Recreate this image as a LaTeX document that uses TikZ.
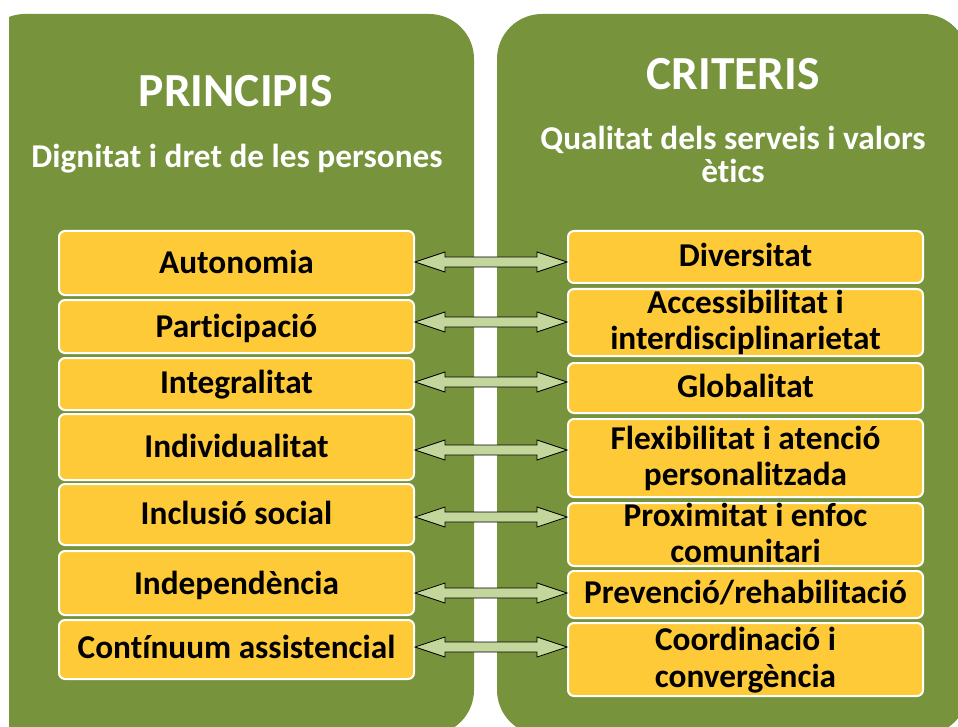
\documentclass[tikz,border=0pt]{standalone}
\usepackage{fontspec}
\setmainfont{Carlito}[RawFeature={-liga}]
\usetikzlibrary{calc}
\definecolor{panelgreen}{RGB}{119,147,60}
\definecolor{boxyellow}{RGB}{255,202,56}
\definecolor{arrowfill}{RGB}{195,214,155}
\tikzset{
  panel/.style={fill=panelgreen, draw=none, rounded corners=45pt},
  box/.style={rectangle, fill=boxyellow, draw=white, line width=2pt, rounded corners=6pt,
    inner sep=0pt, minimum width=355pt},
  lbl/.style={anchor=base, inner sep=0pt, text=black, font=\fontsize{33.3}{36}\selectfont\bfseries},
  ttl/.style={anchor=base, inner sep=0pt, text=white, font=\fontsize{47.5}{50}\selectfont\bfseries},
  sub/.style={anchor=base, inner sep=0pt, text=white, font=\fontsize{33.3}{33}\selectfont\bfseries},
  arrowshape/.style={fill=arrowfill, draw=black, line width=0.8pt, line join=miter}
}
\newcommand\dblarr[2]{%
  \draw[arrowshape] let \p1=(#1), \p2=(#2) in
    (\x1,\y1) -- (\x1+30pt,\y1+10pt) -- (\x1+30pt,\y1+5pt) -- (\x2-30pt,\y1+5pt)
    -- (\x2-30pt,\y1+10pt) -- (\x2,\y1) -- (\x2-30pt,\y1-10pt) -- (\x2-30pt,\y1-5pt)
    -- (\x1+30pt,\y1-5pt) -- (\x1+30pt,\y1-10pt) -- cycle;}
\begin{document}
\begin{tikzpicture}[x=1pt,y=-1pt]
\useasboundingbox (0,0) rectangle (958,727);
\begin{scope}
  \clip (9,0) rectangle (958,727);
  \fill[panel] (-20,14) rectangle (474,735);
  \fill[panel] (497,14) rectangle (968,735);
\end{scope}

% titles
\node[ttl] (t1) at (236,107) {PRINCIPIS};
\node[sub] (s1) at (237,168) {Dignitat i dret de les persones};
\node[ttl] (t2) at (733,90) {CRITERIS};
\node[sub] (s2) at (733,150) {Qualitat dels serveis i valors};
\node[sub] (s3) at (733,183) {ètics};

% left boxes
\node[box, minimum height=64pt] (L1) at (236.5,263) {};
\node[box, minimum height=53pt] (L2) at (236.5,326.5) {};
\node[box, minimum height=52pt] (L3) at (236.5,384) {};
\node[box, minimum height=66pt] (L4) at (236.5,447) {};
\node[box, minimum height=61pt] (L5) at (236.5,514.5) {};
\node[box, minimum height=64pt] (L6) at (236.5,583) {};
\node[box, minimum height=59pt] (L7) at (236.5,649.5) {};

% right boxes
\node[box, minimum height=52pt] (R1) at (745.5,257) {};
\node[box, minimum height=67pt] (R2) at (745.5,322.5) {};
\node[box, minimum height=50pt] (R3) at (745.5,388) {};
\node[box, minimum height=78pt] (R4) at (745.5,458) {};
\node[box, minimum height=63pt] (R5) at (745.5,534.5) {};
\node[box, minimum height=47pt] (R6) at (745.5,594.5) {};
\node[box, minimum height=73pt] (R7) at (745.5,659.5) {};

% left labels
\node[lbl] (l1) at (236.5,273) {Autonomia};
\node[lbl] (l2) at (236.5,337) {Participació};
\node[lbl] (l3) at (236.5,393) {Integralitat};
\node[lbl] (l4) at (236.5,457) {Individualitat};
\node[lbl] (l5) at (236.5,524) {Inclusió social};
\node[lbl] (l6) at (236.5,594) {Independència};
\node[lbl] (l7) at (236.5,658) {Contínuum assistencial};

% right labels
\node[lbl] (r1) at (745.5,267) {Diversitat};
\node[lbl] (r2a) at (745.5,313) {Accessibilitat i};
\node[lbl] (r2b) at (745.5,349) {interdisciplinarietat};
\node[lbl] (r3) at (745.5,397) {Globalitat};
\node[lbl] (r4a) at (745.5,449) {Flexibilitat i atenció};
\node[lbl] (r4b) at (745.5,485) {personalitzada};
\node[lbl] (r5a) at (745.5,526) {Proximitat i enfoc};
\node[lbl] (r5b) at (745.5,562) {comunitari};
\node[lbl] (r6) at (745.5,603) {Prevenció/rehabilitació};
\node[lbl] (r7a) at (745.5,650) {Coordinació i};
\node[lbl] (r7b) at (745.5,687) {convergència};

% arrow levels
\coordinate (a1) at (490,262);
\coordinate (a2) at (490,322);
\coordinate (a3) at (490,382);
\coordinate (a4) at (490,450);
\coordinate (a5) at (490,517);
\coordinate (a6) at (490,593);
\coordinate (a7) at (490,647);

\dblarr{L1.east |- a1}{R1.west |- a1}
\dblarr{L2.east |- a2}{R2.west |- a2}
\dblarr{L3.east |- a3}{R3.west |- a3}
\dblarr{L4.east |- a4}{R4.west |- a4}
\dblarr{L5.east |- a5}{R5.west |- a5}
\dblarr{L6.east |- a6}{R6.west |- a6}
\dblarr{L7.east |- a7}{R7.west |- a7}
\end{tikzpicture}
\end{document}
